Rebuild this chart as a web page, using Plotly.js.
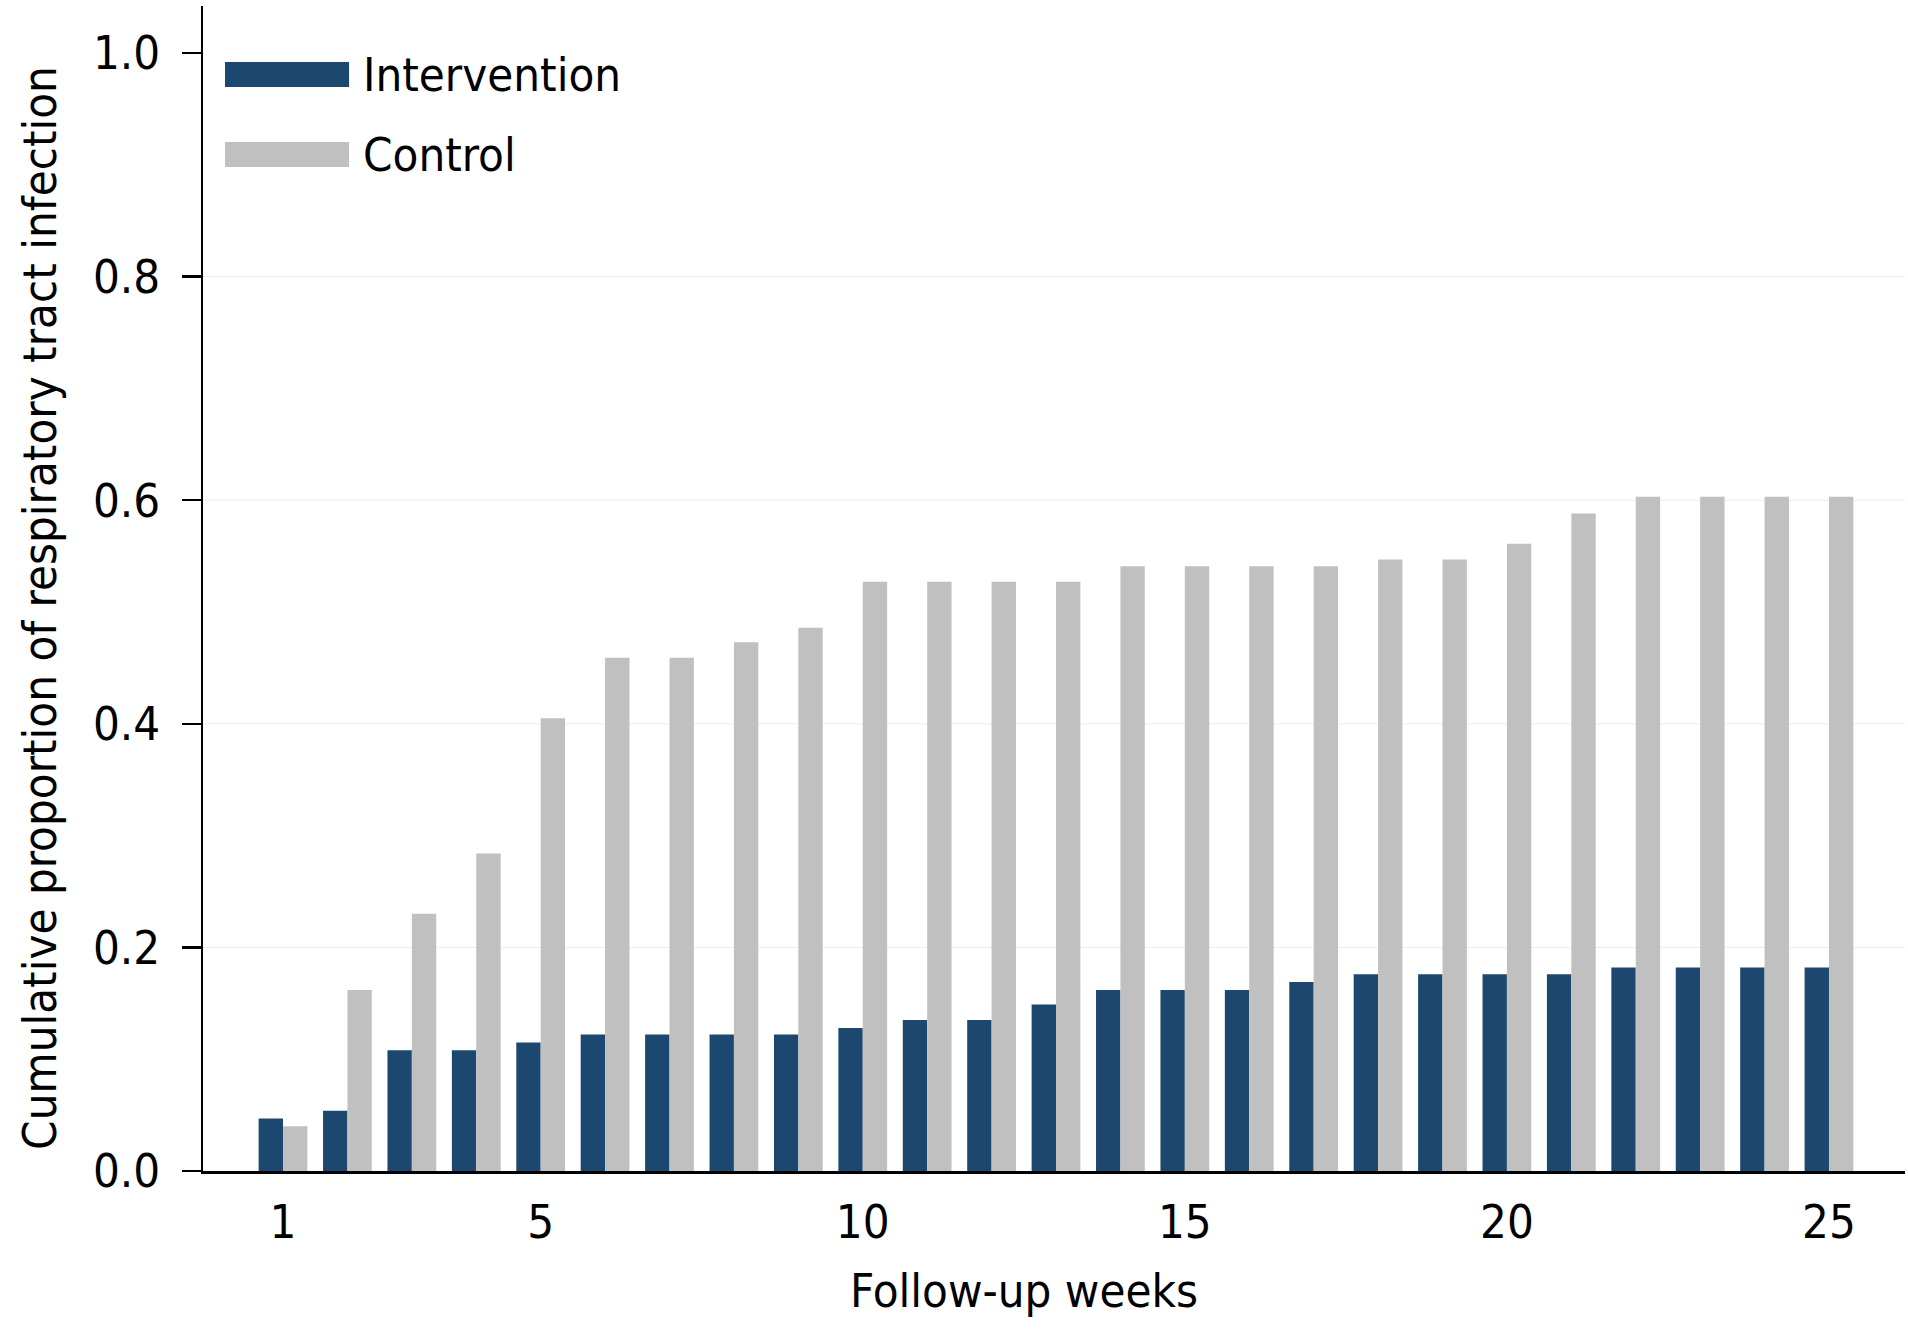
<!DOCTYPE html>
<html lang="en">
<head>
    <meta charset="UTF-8">
    <title>Cumulative respiratory tract infection</title>
    <script src="https://cdn.plot.ly/plotly-3.0.1.min.js"></script>
    <style>
        html, body { margin: 0; padding: 0; background: #ffffff; }
        #plot { width: 1908px; height: 1334px; }
    </style>
</head>
<body>
    <div id="plot"></div>
    <script>
        // follow-up weeks 1..25
        const weeks = [1, 2, 3, 4, 5, 6, 7, 8, 9, 10, 11, 12, 13, 14, 15, 16, 17, 18, 19, 20, 21, 22, 23, 24, 25];

        const intervention = [0.047, 0.054, 0.108, 0.108, 0.115, 0.122, 0.122, 0.122, 0.122, 0.128,
                              0.135, 0.135, 0.149, 0.162, 0.162, 0.162, 0.169, 0.176, 0.176, 0.176,
                              0.176, 0.182, 0.182, 0.182, 0.182];
        const control = [0.040, 0.162, 0.230, 0.284, 0.405, 0.459, 0.459, 0.473, 0.486, 0.527,
                         0.527, 0.527, 0.527, 0.541, 0.541, 0.541, 0.541, 0.547, 0.547, 0.561,
                         0.588, 0.603, 0.603, 0.603, 0.603];

        const seriesNames = ['Intervention', 'Control'];
        const seriesColors = ['#1c476f', '#c0c0c0'];
        const xTicks = [1, 5, 10, 15, 20, 25];
        const yTicks = [0.0, 0.2, 0.4, 0.6, 0.8, 1.0];
        const gridVals = [0.2, 0.4, 0.6, 0.8];

        const font = 'DejaVu Sans Condensed, DejaVu Sans, sans-serif';

        const traces = [intervention, control].map((vals, i) => ({
            type: 'bar',
            x: weeks,
            y: vals,
            name: seriesNames[i],
            marker: { color: seriesColors[i], line: { width: 0 } },
            showlegend: false
        }));

        // faint grid only between 0 and 1 (the original has none at 1.0)
        const shapes = gridVals.map(v => ({
            type: 'line', xref: 'paper', yref: 'y',
            x0: 0, x1: 1, y0: v, y1: v,
            layer: 'below',
            line: { color: '#ececec', width: 1 }
        }));
        const annotations = [];

        // hand-drawn legend: wide swatches + labels in the top-left corner
        seriesNames.forEach((name, i) => {
            const top = 1 - (56 + i * 80) / 1165;
            shapes.push({
                type: 'rect', xref: 'paper', yref: 'paper',
                x0: 22 / 1701, x1: 146 / 1701,
                y0: top - 25 / 1165, y1: top,
                fillcolor: seriesColors[i], line: { width: 0 }
            });
            annotations.push({
                xref: 'paper', yref: 'paper',
                x: 158 / 1701, y: top - 12.5 / 1165,
                xanchor: 'left', yanchor: 'middle',
                text: name, showarrow: false,
                font: { family: font, size: 47, color: '#000000' }
            });
        });

        // axis titles, placed like the original
        annotations.push({
            xref: 'paper', yref: 'paper',
            x: (1024 - 203) / 1701, y: -(1290 - 1171) / 1165,
            xanchor: 'center', yanchor: 'middle',
            text: 'Follow-up weeks', showarrow: false,
            font: { family: font, size: 47, color: '#000000' }
        });
        annotations.push({
            xref: 'paper', yref: 'paper',
            x: (39 - 203) / 1701, y: (1171 - 608) / 1165,
            xanchor: 'center', yanchor: 'middle',
            textangle: -90,
            text: 'Cumulative proportion of respiratory tract infection', showarrow: false,
            font: { family: font, size: 47, color: '#000000' }
        });

        const layout = {
            width: 1908,
            height: 1334,
            margin: { l: 203, r: 3, t: 6, b: 163 },
            plot_bgcolor: '#ffffff',
            paper_bgcolor: '#ffffff',
            barmode: 'group',
            bargap: 0.243,
            bargroupgap: 0,
            font: { family: font, size: 47, color: '#000000' },
            xaxis: {
                range: [-0.242, 26.18],
                tickmode: 'array',
                tickvals: xTicks,
                ticktext: xTicks.map(String),
                ticks: '',
                ticklabelstandoff: 8,
                showgrid: false,
                zeroline: false,
                showline: true,
                linecolor: '#000000',
                linewidth: 2.5,
                tickfont: { family: font, size: 47 }
            },
            yaxis: {
                range: [0, 1.042],
                tickmode: 'array',
                tickvals: yTicks,
                ticktext: yTicks.map(v => v.toFixed(1)),
                ticks: 'outside',
                ticklen: 19,
                tickwidth: 2.5,
                tickcolor: '#000000',
                ticklabelstandoff: 12,
                showgrid: false,
                zeroline: false,
                showline: true,
                linecolor: '#000000',
                linewidth: 2.5,
                tickfont: { family: font, size: 47 }
            },
            shapes: shapes,
            annotations: annotations,
            showlegend: false
        };

        Plotly.newPlot('plot', traces, layout, { displayModeBar: false, staticPlot: true });
    </script>
</body>
</html>
